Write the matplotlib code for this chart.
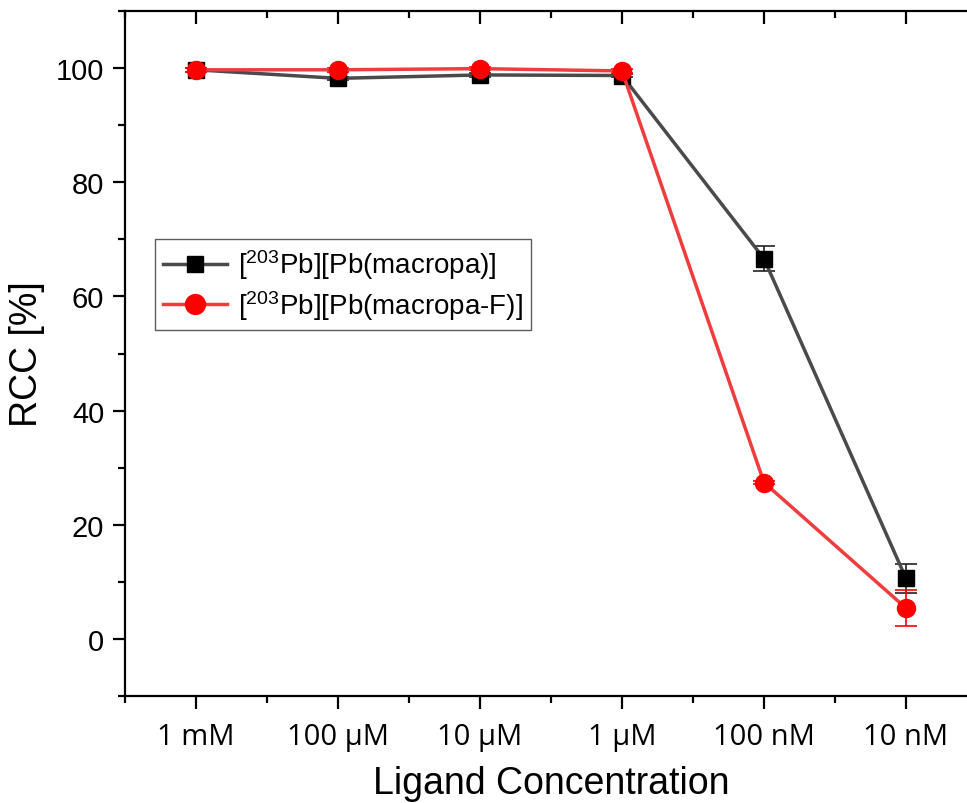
import matplotlib
matplotlib.use("Agg")
import matplotlib.pyplot as plt
from matplotlib.ticker import MultipleLocator, FixedLocator

plt.rcParams['font.family'] = ['Liberation Sans', 'DejaVu Sans']
plt.rcParams['mathtext.fontset'] = 'custom'
plt.rcParams['mathtext.rm'] = 'Liberation Sans'
plt.rcParams['mathtext.default'] = 'regular'

# data
concentrations = ['1 mM', '100 µM', '10 µM', '1 µM', '100 nM', '10 nM']
rcc_macropa = [99.7, 98.2, 98.8, 98.7, 66.6, 10.6]
err_macropa = [0.3, 0.3, 0.3, 0.3, 2.2, 2.6]
rcc_macropa_f = [99.7, 99.7, 99.9, 99.5, 27.4, 5.4]
err_macropa_f = [0.3, 0.3, 0.3, 0.3, 0.3, 3.1]
labels = [r'[$^{203}$Pb][Pb(macropa)]', r'[$^{203}$Pb][Pb(macropa-F)]']

fig = plt.figure(figsize=(9.67, 8.04), dpi=100)
ax = fig.add_axes([125 / 967, 107 / 804, 852 / 967, 685 / 804])

x = list(range(len(concentrations)))

# error bars first, then lines+markers (these carry the legend entries)
ax.errorbar(x, rcc_macropa, yerr=err_macropa, fmt='none',
            ecolor='#222222', elinewidth=1.2, capsize=8, capthick=1.2, zorder=3)
ax.errorbar(x, rcc_macropa_f, yerr=err_macropa_f, fmt='none',
            ecolor='#ff0000', elinewidth=1.2, capsize=8, capthick=1.2, zorder=4)
ax.plot(x, rcc_macropa, color='#4a4a4a', lw=2.5, marker='s', ms=11,
        mfc='black', mec='black', label=labels[0], zorder=3)
ax.plot(x, rcc_macropa_f, color='#f03c3c', lw=2.5, marker='o', ms=13,
        mfc='#ff0000', mec='#ff0000', label=labels[1], zorder=4)

ax.set_xlim(-0.5, len(concentrations) - 0.5)
ax.set_ylim(-10, 110)
ax.set_xticks(x)
ax.set_xticklabels(concentrations, fontfamily=['Open Sans', 'DejaVu Sans'])
ax.xaxis.set_minor_locator(FixedLocator([i + 0.5 for i in range(-1, len(x))]))
ax.yaxis.set_major_locator(FixedLocator([0, 20, 40, 60, 80, 100]))
ax.yaxis.set_minor_locator(MultipleLocator(10))

for s in ax.spines.values():
    s.set_linewidth(1.6)

ax.tick_params(axis='both', which='major', length=9, width=1.6, labelsize=21,
               direction='out')
ax.tick_params(axis='both', which='minor', length=5, width=1.6, direction='out')
ax.tick_params(axis='x', which='both', top=True, pad=10)
ax.tick_params(axis='x', which='both', labeltop=False)
ax.tick_params(axis='y', which='major', right=True, pad=6)
# inward ticks on the top and right edges
for t in ax.xaxis.get_major_ticks() + ax.xaxis.get_minor_ticks():
    t.tick2line.set_marker(3)
for t in ax.yaxis.get_major_ticks():
    t.tick2line.set_marker(1)

ax.set_xlabel('Ligand Concentration', fontsize=27, labelpad=10)
ax.set_ylabel('RCC [%]', fontsize=27, labelpad=8)

leg = ax.legend(loc='upper left', bbox_to_anchor=(0.035, 0.667), borderaxespad=0,
                fontsize=20, frameon=True, fancybox=False, handlelength=2.3,
                borderpad=0.3, labelspacing=0.25, handletextpad=0.4,
                markerscale=1.1)
leg.get_frame().set_edgecolor('#333333')
leg.get_frame().set_linewidth(1.0)

fig.savefig('out.png', dpi=100)
